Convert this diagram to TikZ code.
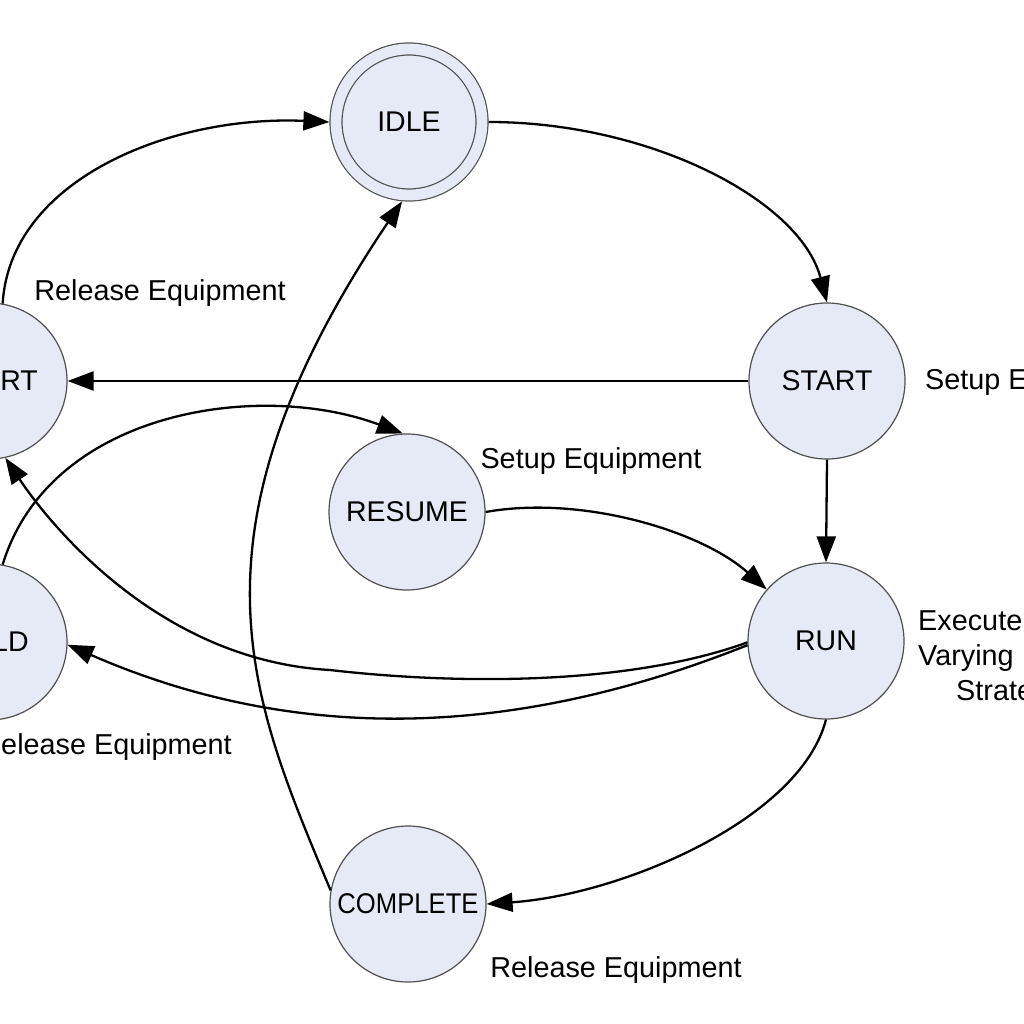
\documentclass[tikz,border=0pt]{standalone}
\usepackage{fontspec}
\setmainfont{Liberation Sans}
\usetikzlibrary{arrows.meta}
\definecolor{statefill}{RGB}{230,234,246}
\definecolor{stateline}{RGB}{80,80,80}
\begin{document}
\begin{tikzpicture}[x=1pt,y=-1pt,
  state/.style={circle, draw=stateline, line width=1.2pt, fill=statefill,
    minimum size=156pt, inner sep=0pt, font=\fontsize{28.5}{34}\selectfont},
  trans/.style={draw=black, line width=2.3pt, -{Triangle[length=26pt,width=19pt]}},
  lbl/.style={font=\fontsize{28.8}{35}\selectfont, inner sep=0pt}]
\useasboundingbox (0,0) rectangle (1024,1024);
\fill[white] (0,0) rectangle (1024,1024);
\clip (0,0) rectangle (1024,1024);

% states
\node[state] (abort) at (-11,381) {ABORT};
\node[state] (hold) at (-11,642) {HOLD};
\node[state, double=statefill, double distance=10.8pt, minimum size=146pt, outer sep=6.6pt] (idle) at (409,122) {IDLE};
\node[state] (start) at (827,381) {START};
\node[state] (run) at (826,641) {RUN};
\node[state] (resume) at (407,512) {RESUME};
\node[state] (complete) at (408,904) {\scalebox{0.9}[1]{COMPLETE}};
\coordinate (via) at (330,670);

% transitions
\draw[trans] (abort.80) .. controls (10,180) and (170,115) .. (idle.west);
\draw[trans] (idle.east) .. controls (650,122) and (800,200) .. (start.north);
\draw[trans] (start.west) -- (abort.east);
\draw[trans] (start.south) -- (run.north);
\draw[trans] (hold.80) .. controls (50,410) and (260,380) .. (resume.93);
\draw[trans] (resume.east) .. controls (580,495) and (700,530) .. (run.139);
\draw[trans] (run.181) .. controls (630,685) and (460,685) .. (via) .. controls (150,660) and (40,510) .. (abort.282);
\draw[trans] (run.183) .. controls (530,732) and (309,750) .. (hold.-2);
\draw[trans] (run.south) .. controls (800,820) and (620,895) .. (complete.east);
\draw[trans] (complete.170) .. controls (250.7,699) and (176.4,537) .. (idle.265);

% labels
\node[lbl] (lblabort) at (160,293) {Release Equipment};
\node[lbl] (lblresume) at (591,461) {Setup Equipment};
\node[lbl, anchor=west] (lblstart) at (925,382) {Setup Equipment};
\node[lbl, anchor=east] (lblhold) at (232,747) {Release Equipment};
\node[lbl] (lblcomplete) at (616,970) {Release Equipment};
\node[lbl, anchor=west, align=left] (lblrun) at (918,659) {Execute\\Varying\\\hspace*{38pt}Strategy};
\end{tikzpicture}
\end{document}
